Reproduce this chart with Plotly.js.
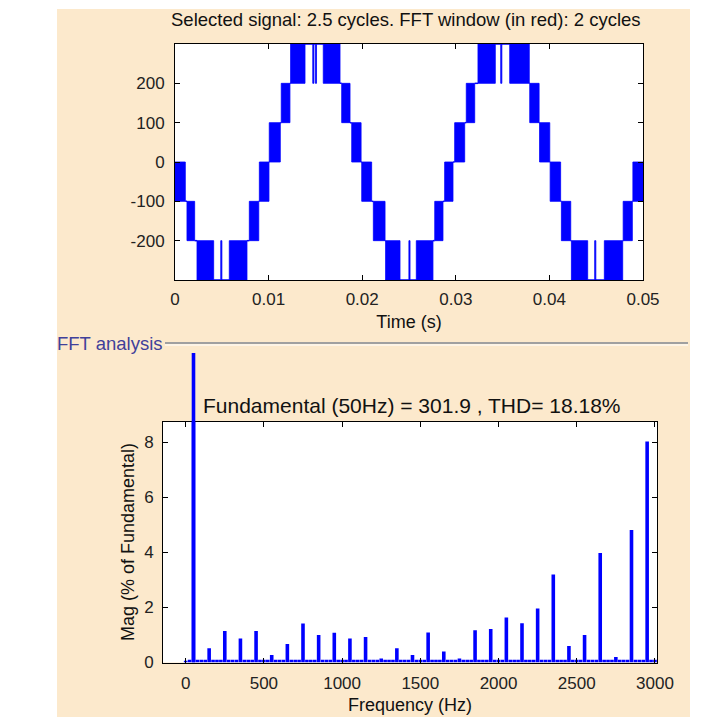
<!DOCTYPE html>
<html>
<head>
<meta charset="utf-8">
<script src="https://cdn.plot.ly/plotly-3.0.1.min.js"></script>
<style>html,body{margin:0;padding:0;background:#fff;} #chart{width:705px;height:717px;}</style>
</head>
<body>
<div id="chart"></div>
<script>
// ---------------- Time signal (multilevel PWM) ----------------
// Each segment: start time, end time, level A, level B (A==B -> flat; A!=B -> dense PWM band)
const segStart = [0, 0.00128, 0.00235, 0.00489, 0.00580, 0.00794, 0.00901, 0.01007, 0.01135, 0.01235,
  0.01472, 0.01500, 0.01584, 0.01781, 0.01888, 0.01995, 0.02119, 0.02250, 0.02499, 0.02578,
  0.02775, 0.02881, 0.02988, 0.03112, 0.03237, 0.03480, 0.03576, 0.03790, 0.03895, 0.04008,
  0.04128, 0.04235, 0.04484, 0.04587, 0.04788, 0.04892];
const segEnd = [0.00110, 0.00210, 0.00413, 0.00501, 0.00769, 0.00895, 0.01004, 0.01125, 0.01228, 0.01389,
  0.01484, 0.01512, 0.01763, 0.01870, 0.01988, 0.02101, 0.02244, 0.02404, 0.02511, 0.02756,
  0.02863, 0.02970, 0.03095, 0.03202, 0.03422, 0.03492, 0.03785, 0.03890, 0.04004, 0.04120,
  0.04228, 0.04409, 0.04496, 0.04783, 0.04886, 0.05000];
const segLevelA = [0, -100, -200, -200, -200, -200, -100, 0, 100, 200,
  200, 200, 200, 200, 100, 0, -100, -200, -200, -200,
  -200, -100, 0, 100, 200, 200, 200, 200, 100, 0,
  -100, -200, -200, -200, -200, -100];
const segLevelB = [-100, -200, -300, -300, -300, -100, 0, 100, 200, 300,
  300, 300, 300, 100, 0, -100, -200, -300, -300, -300,
  -100, 0, 100, 200, 300, 300, 300, 100, 0, -100,
  -200, -300, -300, -300, -100, 0];
const timeTicks = [0, 0.01, 0.02, 0.03, 0.04, 0.05];
const timeTickText = ['0', '0.01', '0.02', '0.03', '0.04', '0.05'];
const voltTicks = [-200, -100, 0, 100, 200];
const voltTickText = ['-200', '-100', '0', '100', '200'];

// ---------------- FFT spectrum (25 Hz bins, % of fundamental) ----------------
const spectrumHz = [
  0, 25, 50, 75, 100, 125, 150, 175, 200, 225, 250, 275, 300, 325, 350, 375, 400, 425, 450, 475,
  500, 525, 550, 575, 600, 625, 650, 675, 700, 725, 750, 775, 800, 825, 850, 875, 900, 925, 950, 975,
  1000, 1025, 1050, 1075, 1100, 1125, 1150, 1175, 1200, 1225, 1250, 1275, 1300, 1325, 1350, 1375, 1400, 1425, 1450, 1475,
  1500, 1525, 1550, 1575, 1600, 1625, 1650, 1675, 1700, 1725, 1750, 1775, 1800, 1825, 1850, 1875, 1900, 1925, 1950, 1975,
  2000, 2025, 2050, 2075, 2100, 2125, 2150, 2175, 2200, 2225, 2250, 2275, 2300, 2325, 2350, 2375, 2400, 2425, 2450, 2475,
  2500, 2525, 2550, 2575, 2600, 2625, 2650, 2675, 2700, 2725, 2750, 2775, 2800, 2825, 2850, 2875, 2900, 2925, 2950, 2975,
  3000];
const spectrumMag = [
  0.06, 0.1, 100, 0.1, 0.1, 0.1, 0.52, 0.1, 0.1, 0.1, 1.15, 0.1, 0.1, 0.1, 0.87, 0.1, 0.1, 0.1, 1.15, 0.1,
  0.1, 0.1, 0.27, 0.1, 0.1, 0.1, 0.67, 0.1, 0.1, 0.1, 1.42, 0.1, 0.1, 0.1, 1.0, 0.1, 0.1, 0.1, 1.08, 0.1,
  0.1, 0.1, 0.87, 0.1, 0.1, 0.1, 0.93, 0.1, 0.1, 0.1, 0.15, 0.1, 0.1, 0.1, 0.52, 0.1, 0.1, 0.1, 0.27, 0.1,
  0.1, 0.1, 1.09, 0.1, 0.1, 0.1, 0.4, 0.1, 0.1, 0.1, 0.15, 0.1, 0.1, 0.1, 1.17, 0.1, 0.1, 0.1, 1.22, 0.1,
  0.1, 0.1, 1.64, 0.1, 0.1, 0.1, 1.43, 0.1, 0.1, 0.1, 1.96, 0.1, 0.1, 0.1, 3.2, 0.1, 0.1, 0.1, 0.6, 0.1,
  0.1, 0.1, 1.0, 0.1, 0.1, 0.1, 3.98, 0.1, 0.1, 0.1, 0.2, 0.1, 0.1, 0.1, 4.82, 0.1, 0.1, 0.1, 8.04, 0.1,
  0.1];
const freqTicks = [0, 500, 1000, 1500, 2000, 2500, 3000];
const magTicks = [0, 2, 4, 6, 8];

const topTitle = 'Selected signal: 2.5 cycles. FFT window (in red): 2 cycles';
const fftLabel = 'FFT analysis';
const fftTitle = 'Fundamental (50Hz) = 301.9 , THD= 18.18%';

// ---------------- build traces ----------------
const W = 705, H = 717;
const px = v => v / W, py = v => 1 - v / H;
const BLUE = '#0000ff';
const FONT = 'Liberation Sans, Arial, Helvetica, sans-serif';

const bandX = [], bandY = [], flatX = [], flatY = [];
for (let i = 0; i < segStart.length; i++) {
  const a = segLevelA[i], b = segLevelB[i];
  const lo = Math.min(a, b), hi = Math.max(a, b);
  bandX.push(segStart[i], segEnd[i], segEnd[i], segStart[i], segStart[i], null);
  bandY.push(lo, lo, hi, hi, lo, null);
  if (i < segStart.length - 1) {
    const na = segLevelA[i + 1], nb = segLevelB[i + 1];
    const shared = [a, b].filter(v => v === na || v === nb);
    let lvl = shared.length ? shared.reduce((p, q) => (Math.abs(q) > Math.abs(p) ? q : p)) : b;
    flatX.push(segEnd[i], segStart[i + 1], null);
    flatY.push(lvl, lvl, null);
  }
}

const yTopMax = 8.764;
const tallX = [], tallY = [];
spectrumHz.forEach((f, i) => { if (spectrumMag[i] > yTopMax) { tallX.push(f); tallY.push(spectrumMag[i]); } });

const traces = [
  {x: bandX, y: bandY, type: 'scatter', mode: 'lines', fill: 'toself', fillcolor: BLUE,
   line: {color: BLUE, width: 0.8}, xaxis: 'x', yaxis: 'y', hoverinfo: 'skip'},
  {x: flatX, y: flatY, type: 'scatter', mode: 'lines', line: {color: BLUE, width: 1.5},
   xaxis: 'x', yaxis: 'y', hoverinfo: 'skip'},
  {x: spectrumHz, y: spectrumMag, type: 'bar', width: 23, marker: {color: BLUE, line: {width: 0}},
   xaxis: 'x2', yaxis: 'y2'},
  {x: tallX, y: tallY, type: 'bar', width: 23, marker: {color: BLUE, line: {width: 0}},
   xaxis: 'x3', yaxis: 'y3'}
];

const tickFont = {family: FONT, size: 17, color: '#222'};
const titleFont = {family: FONT, size: 18, color: '#111'};
const axBase = {showline: true, linecolor: '#000', linewidth: 1, mirror: 'ticks', ticks: 'inside',
  ticklen: 5, tickcolor: '#000', showgrid: false, zeroline: false, tickfont: tickFont, fixedrange: true};

const topXD = [px(175), px(643)], topYD = [py(280), py(44)];
const botXD = [px(163), px(657)], botYD = [py(662.5), py(421.5)];

const layout = {
  width: W, height: H, margin: {l: 0, r: 0, t: 0, b: 0},
  paper_bgcolor: '#ffffff', plot_bgcolor: 'rgba(0,0,0,0)', showlegend: false,
  font: {family: FONT, color: '#111'},
  xaxis: Object.assign({}, axBase, {domain: topXD, range: [0, 0.05], anchor: 'y',
    tickvals: timeTicks, ticktext: timeTickText, ticklabelstandoff: 4,
    title: {text: 'Time (s)', font: titleFont, standoff: 6}}),
  yaxis: Object.assign({}, axBase, {domain: topYD, range: [-300, 300], anchor: 'x',
    tickvals: voltTicks, ticktext: voltTickText, ticklabelstandoff: 6}),
  xaxis2: Object.assign({}, axBase, {domain: botXD, range: [-145, 3013], anchor: 'y2',
    tickvals: freqTicks, ticklabelstandoff: 5,
    title: {text: 'Frequency (Hz)', font: titleFont, standoff: 6}}),
  yaxis2: Object.assign({}, axBase, {domain: botYD, range: [0, yTopMax], anchor: 'x2',
    tickvals: magTicks, ticklabelstandoff: 5,
    title: {text: 'Mag (% of Fundamental)', font: titleFont, standoff: 4}}),
  xaxis3: {domain: botXD, range: [-145, 3013], anchor: 'y3', visible: false, fixedrange: true},
  yaxis3: {domain: [py(662.5), py(353)], range: [0, (662.5 - 353) / 27.5], anchor: 'x3', visible: false, fixedrange: true},
  shapes: [
    {type: 'rect', xref: 'paper', yref: 'paper', x0: px(57), x1: px(690), y0: 0, y1: py(9),
     fillcolor: '#fce9cc', line: {width: 0}, layer: 'below'},
    {type: 'rect', xref: 'paper', yref: 'paper', x0: topXD[0], x1: topXD[1], y0: topYD[0], y1: topYD[1],
     fillcolor: '#ffffff', line: {width: 0}, layer: 'below'},
    {type: 'rect', xref: 'paper', yref: 'paper', x0: botXD[0], x1: botXD[1], y0: botYD[0], y1: botYD[1],
     fillcolor: '#ffffff', line: {width: 0}, layer: 'below'},
    {type: 'line', xref: 'paper', yref: 'paper', x0: px(165), x1: px(688), y0: py(343), y1: py(343),
     line: {color: '#a0a0a0', width: 2}, layer: 'below'},
    {type: 'line', xref: 'paper', yref: 'paper', x0: px(165), x1: px(688), y0: py(345), y1: py(345),
     line: {color: '#ffffff', width: 1}, layer: 'below'}
  ],
  annotations: [
    {text: topTitle, xref: 'paper', yref: 'paper', x: px(406), y: py(20), xanchor: 'center', yanchor: 'middle',
     showarrow: false, font: {family: FONT, size: 18.5, color: '#111'}},
    {text: fftLabel, xref: 'paper', yref: 'paper', x: px(55), y: py(343), xanchor: 'left', yanchor: 'middle',
     showarrow: false, font: {family: FONT, size: 18.5, color: '#40409a'}},
    {text: fftTitle, xref: 'paper', yref: 'paper', x: px(412), y: py(405), xanchor: 'center', yanchor: 'middle',
     showarrow: false, font: {family: FONT, size: 21, color: '#111'}}
  ]
};

Plotly.newPlot('chart', traces, layout, {staticPlot: true, displayModeBar: false});
</script>
</body>
</html>
